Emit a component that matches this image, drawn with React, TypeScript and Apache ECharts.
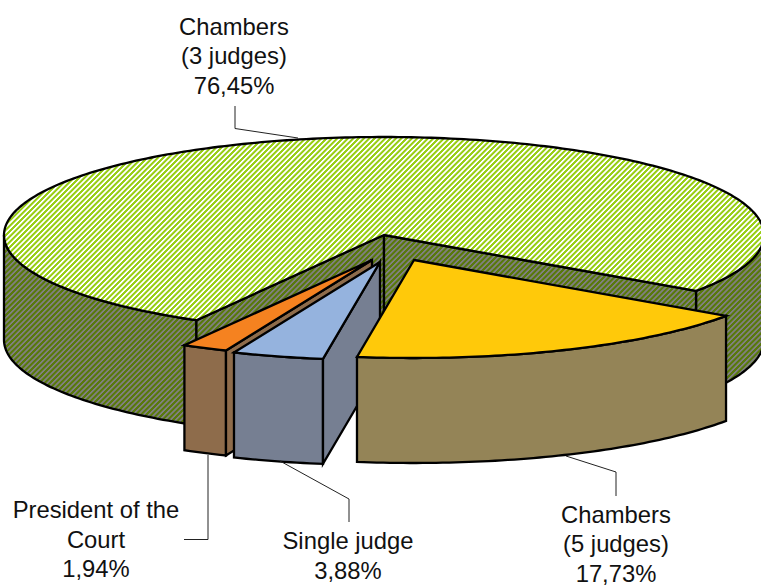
import React, { useEffect, useRef } from "react";
import * as echarts from "echarts";

// Data (clockwise from the first slice)
const sliceNames = ["Chambers (5 judges)", "Single judge", "President of the Court", "Chambers (3 judges)"];
const sliceValues = [17.73, 3.88, 1.94, 76.45];
const sliceLabels = [
  ["Chambers", "(5 judges)", "17,73%"],
  ["Single judge", "3,88%"],
  ["President of the", "Court", "1,94%"],
  ["Chambers", "(3 judges)", "76,45%"],
];
const drawOrder = [3, 2, 1, 0];

// Styles / layout
const topColors = ["#FFC90A", "#95B3DE", "#F58220", ""];
const sideColors = ["#948457", "#767F92", "#8E6C4B", ""];
const explode = [[30, 25], [-4, 27], [-12, 25], [0, 0]];
const labelPos = [[616, 514], [348, 540.5], [96, 509.5], [234, 26]];
const leaders = [
  [[566, 456], [616, 472], [616, 496]],
  [[280, 461], [349, 499], [349, 522]],
  [[208, 455], [208, 539.5], [184, 539.5]],
  [[235, 106], [235, 128.5], [298, 138]],
];
const CX = 384, CY = 235, RX = 380, RY = 98, DEPTH = 105, START = 34.8;
const LINE = 2.3;
const FONT_SIZE = 23.8;
const LINE_STEP = 29.5;

function hatch(c1: number[], c2: number[]) {
  const size = 16, period = 16 / 3;
  const cv = document.createElement("canvas");
  cv.width = size; cv.height = size;
  const ctx = cv.getContext("2d")!;
  const img = ctx.createImageData(size, size);
  for (let y = 0; y < size; y++) {
    for (let x = 0; x < size; x++) {
      const ph = (x + y) / period;
      const w = Math.max(0, Math.min(1, 0.62 + 0.5 * Math.cos(ph * 2 * Math.PI) * 1.8));
      const i = (y * size + x) * 4;
      for (let k = 0; k < 3; k++) img.data[i + k] = Math.round(c1[k] * w + c2[k] * (1 - w));
      img.data[i + 3] = 255;
    }
  }
  ctx.putImageData(img, 0, 0);
  return { image: cv.toDataURL(), repeat: "repeat", imageWidth: size, imageHeight: size };
}

export default function App() {
  const ref = useRef<HTMLDivElement>(null);
  useEffect(() => {
    document.body.style.margin = "0";
    const chart = echarts.init(ref.current!, null, { renderer: "svg" });
    const total = sliceValues.reduce((a, b) => a + b, 0);
    const starts: number[] = [];
    let acc = START;
    sliceValues.forEach((v) => { starts.push(acc); acc += (v / total) * 360; });

    const topHatch = hatch([152, 206, 20], [255, 255, 255]);
    const sideHatch = hatch([88, 120, 12], [128, 128, 128]);

    const pt = (t: number, ox: number, oy: number, d = 0) => {
      const r = (t * Math.PI) / 180;
      return [CX + ox + RX * Math.cos(r), CY + oy + RY * Math.sin(r) + d];
    };
    const arc = (a: number, b: number, ox: number, oy: number, d = 0) => {
      const pts: number[][] = [];
      const n = Math.max(1, Math.ceil(Math.abs(b - a)));
      for (let i = 0; i <= n; i++) pts.push(pt(a + ((b - a) * i) / n, ox, oy, d));
      return pts;
    };
    const baseStyle = (fill: any) => ({ fill, stroke: "#000", lineWidth: LINE, lineJoin: "miter", miterLimit: 4 });

    const renderItem = (_p: any, api: any) => {
      const idx = api.value(1) as number;
      const a = starts[idx];
      const b = a + (api.value(0) / total) * 360;
      const [ox, oy] = explode[idx];
      const top = topColors[idx] ? topColors[idx] : topHatch;
      const side = sideColors[idx] ? sideColors[idx] : sideHatch;
      const apex = [CX + ox, CY + oy];
      const children: any[] = [];
      const radial = (t: number) => {
        const p = pt(t, ox, oy);
        children.push({
          type: "polygon",
          shape: { points: [apex, p, [p[0], p[1] + DEPTH], [apex[0], apex[1] + DEPTH]] },
          style: baseStyle(side),
        });
      };
      // outer walls: the parts of the arc facing the viewer (0..180 deg, modulo 360)
      [[0, 180], [360, 540]].forEach(([lo, hi]) => {
        const s = Math.max(a, lo), e = Math.min(b, hi);
        if (e > s) {
          const upper = arc(s, e, ox, oy);
          const lower = arc(e, s, ox, oy, DEPTH);
          children.push({ type: "polygon", shape: { points: upper.concat(lower) }, style: baseStyle(side) });
        }
      });
      if (a > 90 && a < 270) radial(a);
      const bm = b % 360;
      if (bm < 90) radial(b);
      children.push({
        type: "polygon",
        shape: { points: [apex].concat(arc(a, b, ox, oy)) },
        style: baseStyle(top),
      });
      return { type: "group", children };
    };

    const labelItem = (_p: any, api: any) => {
      const idx = api.value(1) as number;
      const texts = sliceLabels[idx].map((line, i) => ({
        type: "text",
        style: {
          text: line,
          x: labelPos[idx][0],
          y: labelPos[idx][1] + i * LINE_STEP,
          textAlign: "center",
          textVerticalAlign: "middle",
          fontFamily: "Liberation Sans",
          fontSize: FONT_SIZE,
          lineHeight: 22,
          fill: "#111",
        },
      }));
      return {
        type: "group",
        children: [
          {
            type: "polyline",
            shape: { points: leaders[idx] },
            style: { fill: "none", stroke: "#222", lineWidth: 1 },
          },
          ...texts,
        ],
      };
    };

    const data = drawOrder.map((i) => ({ name: sliceNames[i], value: [sliceValues[i], i] }));
    chart.setOption({
      animation: false,
      series: [
        { type: "custom", coordinateSystem: "none", renderItem, data, silent: true, clip: false, z: 1 },
        { type: "custom", coordinateSystem: "none", renderItem: labelItem, data, silent: true, z: 2 },
      ],
    });
    return () => chart.dispose();
  }, []);
  return <div ref={ref} style={{ position: "absolute", left: 0, top: 0, width: 761, height: 585, overflow: "hidden" }} />;
}
